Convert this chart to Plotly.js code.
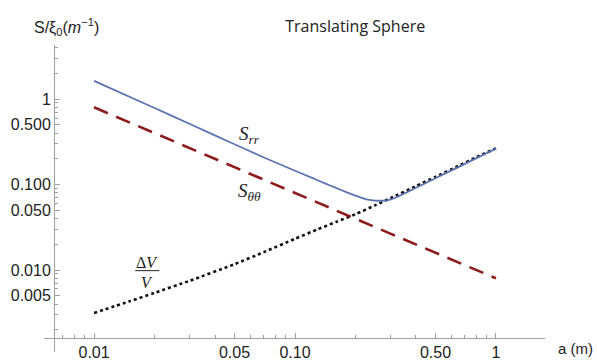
<!DOCTYPE html>
<html>
<head>
<meta charset="utf-8">
<script src="https://cdn.plot.ly/plotly-3.0.1.min.js"></script>
<style>html,body{margin:0;padding:0;background:#fff;}#chart{width:597px;height:360px;}</style>
</head>
<body>
<div id="chart"></div>
<script>
// Sphere radius a (m)
const aSrr = [0.01, 0.02, 0.03, 0.05, 0.07, 0.1, 0.12, 0.14, 0.16, 0.18, 0.2, 0.22, 0.24, 0.26, 0.28, 0.3, 0.32, 0.34, 0.4, 0.5, 0.65, 0.8, 1.0];
const Srr  = [1.63, 0.785, 0.51, 0.296, 0.207, 0.145, 0.121, 0.104, 0.0912, 0.0815, 0.0740, 0.0685, 0.0656, 0.0646, 0.0650, 0.0670, 0.0712, 0.0760, 0.0916, 0.1184, 0.160, 0.2034, 0.263];

const aStt = [0.01, 0.03, 0.1, 0.3, 1.0];
const Stt  = [0.80, 0.265, 0.080, 0.0265, 0.0080];

const aDV = [0.01, 0.015, 0.02, 0.03, 0.05, 0.07, 0.1, 0.13, 0.16, 0.2, 0.25, 0.3, 0.4, 0.5, 0.65, 0.8, 1.0];
const dVV = [0.00314, 0.0043, 0.0054, 0.0075, 0.0117, 0.0162, 0.0232, 0.0300, 0.0365, 0.0450, 0.0570, 0.0695, 0.096, 0.123, 0.165, 0.209, 0.265];

const xTickVals = [0.01, 0.05, 0.1, 0.5, 1];
const xTickText = ["0.01", "0.05", "0.10", "0.50", "1"];
const xMinor = [0.007, 0.008, 0.009, 0.02, 0.03, 0.04, 0.06, 0.07, 0.08, 0.09, 0.2, 0.3, 0.4, 0.6, 0.7, 0.8, 0.9];
const yTickVals = [1, 0.5, 0.1, 0.05, 0.01, 0.005];
const yTickText = ["1", "0.500", "0.100", "0.050", "0.010", "0.005"];
const yMinor = [4, 3, 2, 0.9, 0.8, 0.7, 0.6, 0.4, 0.3, 0.2, 0.09, 0.08, 0.07, 0.06, 0.04, 0.03, 0.02, 0.009, 0.008, 0.007, 0.006, 0.004, 0.003, 0.002];

const traces = [
  {x: aDV, y: dVV, mode: 'lines', line: {color: '#111111', width: 2.6, dash: '3px,3px', shape: 'spline', smoothing: 0.6}, hoverinfo: 'skip'},
  {x: aStt, y: Stt, mode: 'lines', line: {color: '#8e1b1b', width: 2.6, dash: '15px,9px'}, hoverinfo: 'skip'},
  {x: aSrr, y: Srr, mode: 'lines', line: {color: '#5d74b3', width: 1.8, shape: 'spline', smoothing: 0.6}, hoverinfo: 'skip'}
];

const axFont = {family: 'Liberation Sans, Arial, sans-serif', size: 16, color: '#222'};

const layout = {
  width: 597, height: 360,
  margin: {l: 44, r: 52, t: 45, b: 8},
  paper_bgcolor: '#fff', plot_bgcolor: '#fff',
  showlegend: false,
  title: {text: 'Translating Sphere', font: {family: 'Open Sans, sans-serif', size: 16, color: '#222'}, x: 0.595, xanchor: 'center', y: 0.928, yanchor: 'middle'},
  xaxis: {
    type: 'log', range: [-2.249, 0.244], anchor: 'free', position: 0.0456,
    showgrid: false, zeroline: false, showline: true, linecolor: '#a0a0a0', linewidth: 1,
    tickmode: 'array', tickvals: xTickVals, ticktext: xTickText,
    ticks: 'inside', ticklen: 5, tickcolor: '#a0a0a0', tickfont: axFont,
    minor: {tickmode: 'array', tickvals: xMinor, ticks: 'inside', ticklen: 3, tickcolor: '#a0a0a0', showgrid: false}
  },
  yaxis: {
    type: 'log', range: [-2.959, 0.632], anchor: 'free', position: 0.02,
    showgrid: false, zeroline: false, showline: true, linecolor: '#a0a0a0', linewidth: 1,
    tickmode: 'array', tickvals: yTickVals, ticktext: yTickText,
    ticks: 'inside', ticklen: 5, tickcolor: '#a0a0a0', tickfont: axFont,
    minor: {tickmode: 'array', tickvals: yMinor, ticks: 'inside', ticklen: 3, tickcolor: '#a0a0a0', showgrid: false}
  },
  annotations: [
    {xref: 'paper', yref: 'paper', x: 0.045, y: 1.06, xanchor: 'center', yanchor: 'middle', showarrow: false,
     text: 'S/ξ<sub>0</sub>(<i>m</i><sup>−1</sup>)', font: {family: 'Liberation Sans, Arial, sans-serif', size: 16, color: '#222'}},
    {xref: 'paper', yref: 'paper', x: 1.022, y: 0.01, xanchor: 'left', yanchor: 'middle', showarrow: false,
     text: 'a (m)', font: {family: 'Liberation Sans, Arial, sans-serif', size: 15, color: '#222'}},
    {xref: 'paper', yref: 'paper', x: 0.411, y: 0.707, xanchor: 'center', yanchor: 'middle', showarrow: false,
     text: '<i>S<sub>rr</sub></i>', font: {family: 'Liberation Serif, serif', size: 19, color: '#222'}},
    {xref: 'paper', yref: 'paper', x: 0.411, y: 0.521, xanchor: 'center', yanchor: 'middle', showarrow: false,
     text: '<i>S<sub>θθ</sub></i>', font: {family: 'Liberation Serif, serif', size: 19, color: '#222'}},
    {xref: 'paper', yref: 'paper', x: 0.206, y: 0.293, xanchor: 'center', yanchor: 'middle', showarrow: false,
     text: 'Δ<i>V</i>', font: {family: 'Liberation Serif, serif', size: 16, color: '#222'}},
    {xref: 'paper', yref: 'paper', x: 0.206, y: 0.228, xanchor: 'center', yanchor: 'middle', showarrow: false,
     text: '<i>V</i>', font: {family: 'Liberation Serif, serif', size: 16, color: '#222'}}
  ],
  shapes: [
    {type: 'line', xref: 'paper', yref: 'paper', x0: 0.182, x1: 0.23, y0: 0.265, y1: 0.265, line: {color: '#222', width: 1}}
  ]
};

Plotly.newPlot('chart', traces, layout, {displayModeBar: false, staticPlot: true});
</script>
</body>
</html>
